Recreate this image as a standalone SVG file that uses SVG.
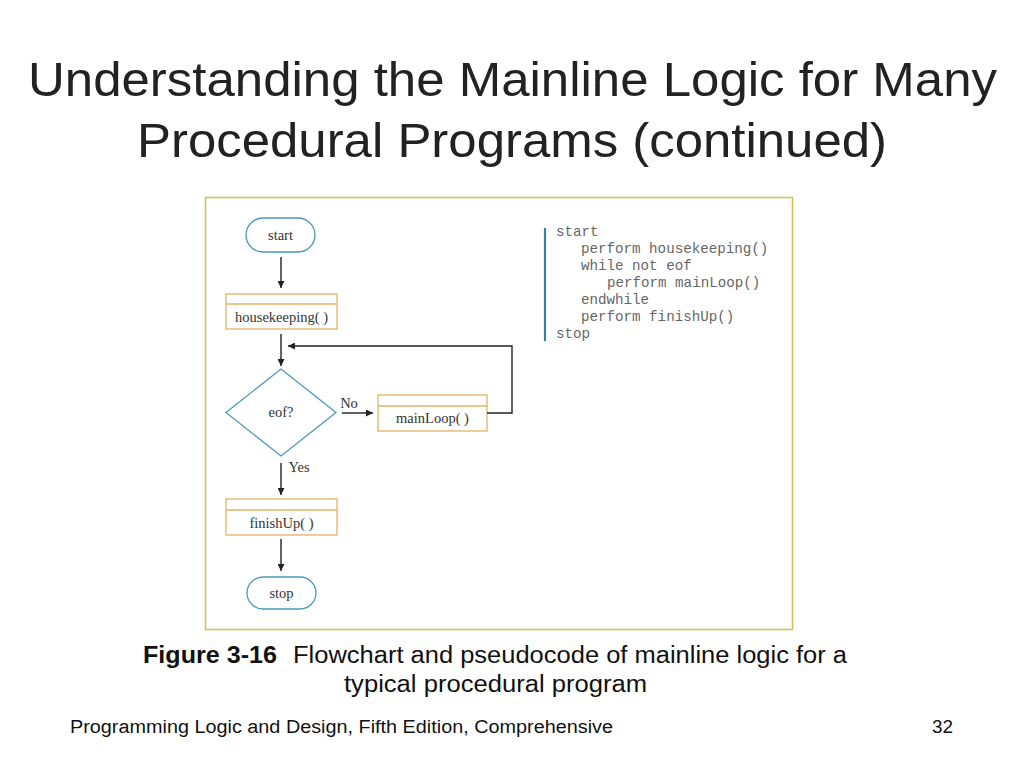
<svg xmlns="http://www.w3.org/2000/svg" width="1024" height="768" viewBox="0 0 1024 768">
<defs>
<marker id="ah" viewBox="0 0 10 10" refX="10" refY="5" markerWidth="9" markerHeight="7" markerUnits="userSpaceOnUse" orient="auto">
<path d="M0,0 L10,5 L0,10 Z" fill="#222"/>
</marker>
<style>
.title{font-family:"Liberation Sans",Arial,sans-serif;font-size:49px;fill:#222;}
.term{fill:#fff;stroke:#4a9abd;stroke-width:1.3;}
.proc{fill:#fff;stroke:#e6b266;stroke-width:1.3;}
.lbl{font-family:"Liberation Serif","Times New Roman",serif;font-size:14.5px;fill:#333;text-anchor:middle;}
.code{font-family:"Liberation Mono","Courier New",monospace;font-size:14.2px;fill:#666;}
.conn{stroke:#222;stroke-width:1.4;fill:none;}
.cap{font-family:"Liberation Sans",Arial,sans-serif;font-size:23px;fill:#111;}
.foot{font-family:"Liberation Sans",Arial,sans-serif;font-size:18px;fill:#111;}
</style>
</defs>
<rect width="1024" height="768" fill="#fff"/>
<text class="title" x="28" y="96" textLength="969" lengthAdjust="spacingAndGlyphs">Understanding the Mainline Logic for Many</text>
<text class="title" x="137" y="157" textLength="750" lengthAdjust="spacingAndGlyphs">Procedural Programs (continued)</text>

<rect x="205.5" y="197.5" width="587" height="432" fill="#fff" stroke="#cfc555" stroke-width="1.6"/>

<g id="start">
<rect class="term" x="246" y="218" width="69" height="34" rx="17"/>
<text class="lbl" x="280.5" y="240">start</text>
</g>
<g id="housekeeping">
<rect class="proc" x="226" y="294" width="111" height="35"/>
<line class="proc" x1="226" y1="304" x2="337" y2="304"/>
<text class="lbl" x="281.5" y="322">housekeeping( )</text>
</g>
<g id="eof">
<polygon class="term" points="281,369 336,412.5 281,456 226,412.5"/>
<text class="lbl" x="281" y="417">eof?</text>
</g>
<g id="mainLoop">
<rect class="proc" x="378" y="395" width="109" height="36"/>
<line class="proc" x1="378" y1="406" x2="487" y2="406"/>
<text class="lbl" x="432.5" y="423">mainLoop( )</text>
</g>
<g id="finishUp">
<rect class="proc" x="226" y="499" width="111" height="36"/>
<line class="proc" x1="226" y1="510" x2="337" y2="510"/>
<text class="lbl" x="281.5" y="528">finishUp( )</text>
</g>
<g id="stop">
<rect class="term" x="247" y="577" width="69" height="32" rx="16"/>
<text class="lbl" x="281.5" y="598">stop</text>
</g>

<g id="connectors">
<line class="conn" x1="281" y1="257" x2="281" y2="288" marker-end="url(#ah)"/>
<line class="conn" x1="281" y1="334" x2="281" y2="366" marker-end="url(#ah)"/>
<line class="conn" x1="342" y1="413" x2="373" y2="413" marker-end="url(#ah)"/>
<polyline class="conn" points="487,413 512,413 512,346 288,346" marker-end="url(#ah)"/>
<line class="conn" x1="281" y1="463" x2="281" y2="495" marker-end="url(#ah)"/>
<line class="conn" x1="281" y1="539" x2="281" y2="571" marker-end="url(#ah)"/>
<text class="lbl" x="349" y="408">No</text>
<text class="lbl" x="299" y="472">Yes</text>
</g>

<g id="pseudocode">
<line x1="545" y1="228" x2="545" y2="341" stroke="#3d7fa6" stroke-width="2.2"/>
<text class="code" x="556" y="236">start</text>
<text class="code" x="581" y="253">perform housekeeping()</text>
<text class="code" x="581" y="270">while not eof</text>
<text class="code" x="607" y="287">perform mainLoop()</text>
<text class="code" x="581" y="304">endwhile</text>
<text class="code" x="581" y="321">perform finishUp()</text>
<text class="code" x="556" y="338">stop</text>
</g>

<text class="cap" x="143" y="663" font-weight="bold" textLength="134" lengthAdjust="spacingAndGlyphs">Figure 3-16</text>
<text class="cap" x="293" y="663" textLength="554" lengthAdjust="spacingAndGlyphs">Flowchart and pseudocode of mainline logic for a</text>
<text class="cap" x="344" y="692" textLength="303" lengthAdjust="spacingAndGlyphs">typical procedural program</text>
<text class="foot" x="70" y="733" textLength="543" lengthAdjust="spacingAndGlyphs">Programming Logic and Design, Fifth Edition, Comprehensive</text>
<text class="foot" x="932" y="733" textLength="21" lengthAdjust="spacingAndGlyphs">32</text>
</svg>
